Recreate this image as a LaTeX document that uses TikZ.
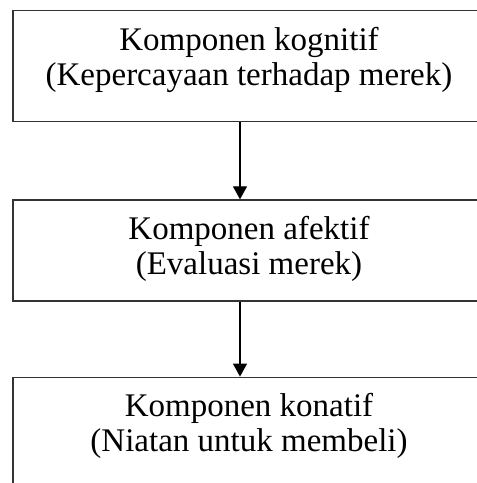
\documentclass[tikz,border=0pt]{standalone}
\usepackage{fontspec}
\setmainfont{Liberation Serif}
\usetikzlibrary{positioning,arrows.meta}
\tikzset{
	kotak/.style={draw=black!80, line width=1.3pt, minimum width=472pt, align=center,
		font=\fontsize{33}{35}\selectfont, inner sep=0pt, text height=75pt},
	panah/.style={line width=1.3pt, -{Triangle[width=14pt,length=13pt]}}
}
\begin{document}
\begin{tikzpicture}
		\useasboundingbox (0,0) rectangle (477pt,-483pt);
		\node[kotak, text depth=36pt, anchor=north] (kognitif) at (249pt,-10pt)
			{Komponen kognitif\\(Kepercayaan terhadap merek)};
		\node[kotak, text depth=26pt, below=77pt of kognitif] (afektif)
			{Komponen afektif\\(Evaluasi merek)};
		\node[kotak, text height=74pt, text depth=60pt, below=75pt of afektif] (konatif)
			{Komponen konatif\\(Niatan untuk membeli)};
		\draw[panah] ([xshift=-9pt]kognitif.south) -- ([xshift=-9pt]afektif.north);
		\draw[panah] ([xshift=-9pt]afektif.south) -- ([xshift=-9pt]konatif.north);
	\end{tikzpicture}
\end{document}
